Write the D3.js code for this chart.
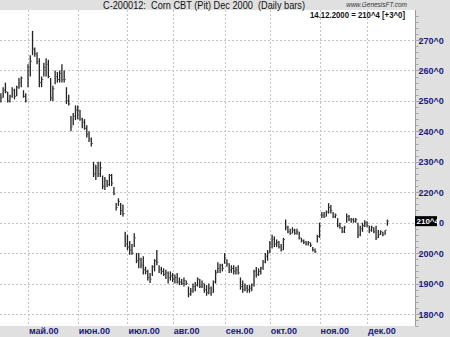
<!DOCTYPE html>
<html>
<head>
<meta charset="utf-8">
<script src="https://cdn.jsdelivr.net/npm/d3@7"></script>
<style>
  body { margin: 0; background: #e0e0e0; }
  svg { display: block; font-family: "Liberation Sans", Arial, sans-serif; }
</style>
</head>
<body>
<svg id="chart"></svg>
<script>
// trading calendar
const firstDay = "2000-04-12", lastDay = "2000-12-14";
const holidays = ["2000-04-21", "2000-05-29", "2000-07-04", "2000-09-04", "2000-11-23"];

// daily bars (cents/bu)
const highs = [
  252.5, 254.5, 256, 253, 252, 254.5, 254, 255, 257.5, 258, 253.5, 252.5,
  262, 265, 273, 267.5, 266, 264, 258, 262.5, 264, 263.5, 257.5, 255, 260, 259.5, 260, 262, 260, 254.5, 252, 245, 246, 248.5,
  248.5, 247, 244.5, 244, 242, 240, 238, 230, 229, 230, 230, 225.5, 225, 224, 226, 226, 221.7, 216.5, 218, 216.5, 216, 207,
  206, 204, 203, 206.5, 200, 200, 198.5, 199, 195.5, 194.5, 193.5, 196, 198, 201, 196, 195.5, 195, 194.5, 194, 194,
  193.5, 193, 193.5, 192, 191.5, 192, 191, 189, 188.5, 190, 190.5, 192, 191.5, 191, 190, 189.5, 190, 189, 191, 194.5, 197, 196.5, 196.5,
  200, 198, 196.7, 196, 196, 195.5, 196, 192, 191, 190, 189.5, 189.5, 190, 194.5, 195.4, 195, 195.5, 197.7, 200, 201,
  204, 206, 205.5, 204.5, 204, 203, 205, 211, 209, 208, 208.5, 208, 208, 207, 205, 204.5, 204, 204, 203.5, 202, 201.5, 206,
  210, 213.5, 213.5, 214, 216.4, 215.8, 213.5, 213, 211.5, 210, 208.6, 209, 213, 212.5, 211.5, 211.5, 211.5, 210, 209, 210, 210.8,
  210.5, 209, 209, 208.5, 209, 207.6, 207.5, 207, 207.5, 211
];
const lows = [
  249.5, 251, 252.5, 249.5, 249.5, 251, 250.5, 251.5, 254, 254.5, 251, 249.5,
  254.5, 258, 265, 264.5, 262, 254.5, 254.5, 258, 258, 257.5, 250, 250, 255.5, 256, 256, 256, 256, 249, 248.5, 240, 242, 243.7,
  244, 243.5, 241, 240.5, 238, 236.5, 235, 225, 224, 225, 225, 221, 220.7, 221.7, 222, 222, 219, 214, 215.5, 212.5, 212, 202,
  201, 199.5, 199.5, 202, 196.7, 195, 195, 193, 193, 191, 190.2, 192.5, 194, 196, 193.5, 193, 192.5, 191.5, 190, 191,
  190.5, 190, 190, 189.5, 189.5, 189, 189.5, 185.5, 186, 187, 187.5, 189, 188.5, 188.5, 187, 186, 186.5, 186, 187, 190, 193.5, 193.5, 194,
  196.5, 195.5, 193.5, 193.5, 193, 193, 193, 188, 187, 187.5, 187, 187, 187.5, 189, 192, 192.5, 193, 194.5, 196.7, 197.5,
  200, 201.5, 202, 202, 201.5, 200.5, 201, 207.5, 206.5, 206, 206.5, 206, 206, 204.5, 203.5, 203, 202.5, 202.5, 202, 200.5, 200, 203.5,
  205, 211.5, 211.5, 212, 213, 213, 211.5, 211.5, 208.5, 208, 206.6, 206.6, 210, 210.5, 210, 210, 210, 205, 205.5, 207, 208.6,
  208.5, 206.6, 207, 206.5, 204.3, 205, 206, 205.5, 206, 209
];
const closes = [
  251, 253.5, 253, 250, 251.5, 253.5, 251.5, 254.5, 256, 257.5, 251.5, 250,
  261, 263, 267, 265.5, 263, 256, 257, 261, 262, 258, 251, 254, 258, 257, 259, 257, 257, 250, 249, 241.5, 245, 247,
  247, 244, 243, 241, 239, 237.5, 236, 226, 228, 226, 228, 222, 224, 222.5, 225.5, 223, 219.5, 215, 217, 214, 213, 203,
  202, 201, 200, 205, 197.5, 198, 196, 194.5, 194, 192, 191.5, 195.5, 197.5, 197, 194.5, 194, 193, 193.5, 192, 192.5,
  191.5, 192, 190.5, 190.5, 190, 191, 190, 186.5, 187.5, 189, 189.5, 191.5, 189, 190, 188, 187, 188.5, 187, 190.5, 193.5, 195, 196, 195,
  198.5, 196.5, 194.5, 195, 194, 194.5, 193.5, 189, 188, 188.5, 188, 188.5, 189.5, 194, 193, 194, 195, 197, 199, 200,
  203, 204.5, 203, 203.5, 202, 201, 204.5, 208.5, 207, 206.5, 207.5, 206.5, 207, 205, 204, 203.5, 203, 203.5, 202.5, 201, 200.5, 205.5,
  209, 212.5, 212, 213.5, 215, 214, 212, 212.5, 209, 208.5, 207, 208.5, 212, 211, 211, 210.5, 211, 206, 208, 209, 210,
  209, 207.5, 208.5, 207, 205, 206, 207, 206, 207.5, 210.5
];

const monthStarts = ["2000-05-01", "2000-06-01", "2000-07-03", "2000-08-01", "2000-09-01", "2000-10-02", "2000-11-01", "2000-12-01"];
const monthLabels = ["май.00", "июн.00", "июл.00", "авг.00", "сен.00", "окт.00", "ноя.00", "дек.00"];
const priceTicks = [180, 190, 200, 210, 220, 230, 240, 250, 260, 270];

const titleText = "C-200012:  Corn CBT (Pit) Dec 2000  (Daily bars)";
const siteText = "www.GenesisFT.com";
const lastText = "14.12.2000 = 210^4 [+3^0]";
const lastLabel = "210^4";

const width = 450, height = 337;
const plot = { left: 0, right: 415, top: 10, bottom: 326 };

const fmt = d3.timeFormat("%Y-%m-%d");
const days = d3.timeDay.range(new Date(2000, 3, 12), d3.timeDay.offset(new Date(2000, 11, 14), 1))
  .filter(d => d.getDay() !== 0 && d.getDay() !== 6)
  .map(fmt)
  .filter(d => !holidays.includes(d));

const bars = days.map((d, i) => ({ date: d, high: highs[i], low: lows[i], close: closes[i] }));

const svg = d3.select("#chart").attr("width", width).attr("height", height);

svg.append("rect").attr("width", width).attr("height", height).attr("fill", "#e0e0e0");
svg.append("rect")
  .attr("x", plot.left).attr("y", plot.top)
  .attr("width", plot.right - plot.left).attr("height", plot.bottom - plot.top)
  .attr("fill", "#ffffff");

const x = d3.scalePoint().domain(days).range([0.9, 0.9 + (days.length - 1) * 2.26]);
const y = d3.scaleLinear().domain([180, 270]).range([314, 40]);

// grid
svg.append("g").selectAll("line").data(priceTicks).join("line")
  .attr("x1", plot.left).attr("x2", plot.right)
  .attr("y1", d => Math.round(y(d)) + 0.5).attr("y2", d => Math.round(y(d)) + 0.5)
  .attr("stroke", "#c4c4c4").attr("stroke-dasharray", "2,2");

svg.append("g").selectAll("line").data(monthStarts).join("line")
  .attr("x1", d => Math.round(x(d)) + 0.5).attr("x2", d => Math.round(x(d)) + 0.5)
  .attr("y1", plot.top).attr("y2", plot.bottom)
  .attr("stroke", "#c4c4c4").attr("stroke-dasharray", "2,2");

// right axis
const axis = svg.append("g").attr("transform", `translate(${plot.right + 0.5},0)`);
axis.append("line").attr("y1", plot.top).attr("y2", plot.bottom).attr("stroke", "#9a9a9a");
const minorTicks = d3.range(176, 280, 2);
axis.selectAll(".minor").data(minorTicks).join("line")
  .attr("class", "minor")
  .attr("x1", 0).attr("x2", d => d % 10 === 0 ? 5 : 3)
  .attr("y1", d => Math.round(y(d)) + 0.5).attr("y2", d => Math.round(y(d)) + 0.5)
  .attr("stroke", "#a8a8a8");
// the 210 label sits under the last-price box, as in the original
axis.selectAll("text").data(priceTicks.filter(d => d !== 210)).join("text")
  .attr("x", 3).attr("y", d => y(d) + 3.5)
  .attr("fill", "#1a1a7a").attr("font-size", "9px").attr("font-weight", "bold")
  .text(d => `${d}^0`);

// month labels
svg.append("g").selectAll("text").data(monthStarts).join("text")
  .attr("x", d => x(d) + 1).attr("y", 334)
  .attr("fill", "#1a1a7a").attr("font-size", "9px").attr("font-weight", "bold")
  .text((d, i) => monthLabels[i]);

// bars
const g = svg.append("g");
g.selectAll(".hl").data(bars).join("line")
  .attr("class", "hl")
  .attr("x1", d => x(d.date)).attr("x2", d => x(d.date))
  .attr("y1", d => y(d.high)).attr("y2", d => y(d.low))
  .attr("stroke", "#222").attr("stroke-width", 1.3);
g.selectAll(".cl").data(bars).join("line")
  .attr("class", "cl")
  .attr("x1", d => x(d.date)).attr("x2", d => x(d.date) + 1.6)
  .attr("y1", d => y(d.close)).attr("y2", d => y(d.close))
  .attr("stroke", "#555").attr("stroke-width", 1);

// last value marker (covers the 210 tick; its trailing "0" stays visible)
const lastBar = bars[bars.length - 1];
svg.append("rect")
  .attr("x", plot.right).attr("y", y(lastBar.close) - 5)
  .attr("width", 22).attr("height", 10).attr("fill", "#000");
svg.append("text")
  .attr("x", plot.right + 1.5).attr("y", y(lastBar.close) + 3)
  .attr("fill", "#fff").attr("font-size", "8px").attr("font-weight", "bold")
  .text(lastLabel);
svg.append("text")
  .attr("x", plot.right + 24).attr("y", y(210) + 3.5)
  .attr("fill", "#1a1a7a").attr("font-size", "9px").attr("font-weight", "bold")
  .text("0");

// header texts
svg.append("text").attr("x", 103).attr("y", 9)
  .attr("font-size", "10.5px").attr("fill", "#111")
  .attr("textLength", 202).attr("lengthAdjust", "spacingAndGlyphs")
  .style("white-space", "pre")
  .text(titleText);
svg.append("text").attr("x", 407).attr("y", 7)
  .attr("text-anchor", "end").attr("font-size", "6.5px").attr("font-style", "italic").attr("fill", "#333")
  .text(siteText);
svg.append("text").attr("x", 310).attr("y", 18)
  .attr("font-size", "8.5px").attr("font-weight", "bold").attr("fill", "#111")
  .attr("textLength", 95).attr("lengthAdjust", "spacingAndGlyphs")
  .text(lastText);
</script>
</body>
</html>
